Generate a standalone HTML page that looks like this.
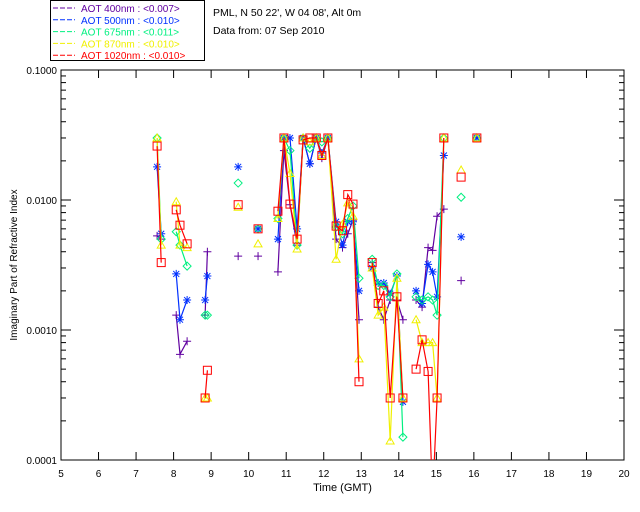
<!DOCTYPE html>
<html><head><meta charset="utf-8"><style>
body{margin:0;background:#fff;width:640px;height:512px;overflow:hidden}
svg{display:block;font-family:"Liberation Sans",sans-serif}
</style></head><body>
<svg id="c" width="640" height="512"></svg>
<script>
const times=[7.56,7.67,8.07,8.17,8.36,8.84,8.9,9.72,10.25,10.78,10.94,11.1,11.29,11.45,11.63,11.8,11.95,12.11,12.33,12.5,12.64,12.78,12.94,13.29,13.45,13.6,13.77,13.95,14.11,14.46,14.62,14.78,14.9,15.02,15.2,15.66,16.08];
const segments=[0,0,1,1,1,2,2,3,4,5,5,5,5,5,5,5,5,5,5,5,5,5,5,6,6,6,6,6,6,7,7,7,7,7,7,8,9];
const aot400=[0.0053,0.005,0.0013,0.00065,0.00082,0.0013,0.004,0.0037,0.0037,0.0028,0.024,0.0092,0.0045,0.03,0.019,0.03,0.021,0.03,0.005,0.0043,0.0055,0.007,0.0012,0.0033,0.0015,0.0012,0.0017,0.0017,0.0012,0.0017,0.0015,0.0043,0.0041,0.0075,0.0085,0.0024,null];
const aot500=[0.018,0.0055,0.0027,0.0012,0.0017,0.0017,0.0026,0.018,0.006,0.005,0.03,0.03,0.006,0.03,0.019,0.03,0.023,0.03,0.0068,0.0045,0.0068,0.0068,0.002,0.003,0.0023,0.0023,0.0019,0.0026,0.00028,0.002,0.0016,0.0032,0.0028,0.0018,0.022,0.0052,0.03];
const aot675=[0.03,0.005,0.0057,0.0045,0.0031,0.0013,0.0013,0.0135,0.006,0.0072,0.03,0.024,0.0045,0.03,0.025,0.03,0.028,0.03,0.0062,0.0055,0.0072,0.009,0.0025,0.0035,0.0022,0.0022,0.0018,0.0027,0.00015,0.0018,0.0017,0.0018,0.0017,0.0013,0.03,0.0105,0.03];
const aot870=[0.03,0.0045,0.0097,0.0045,0.0043,0.0003,0.0003,0.0088,0.0046,0.0072,0.03,0.016,0.0042,0.03,0.028,0.03,0.022,0.03,0.0035,0.0065,0.0095,0.0075,0.0006,0.003,0.0013,0.0015,0.00014,0.0025,0.0003,0.0012,0.0008,0.0008,0.0008,0.0003,0.03,0.017,0.03];
const aot1020=[0.026,0.0033,0.0084,0.0064,0.0046,0.0003,0.00049,0.0092,0.006,0.0082,0.03,0.0093,0.005,0.029,0.03,0.03,0.022,0.03,0.0063,0.0058,0.011,0.0093,0.0004,0.0033,0.0016,0.002,0.0003,0.0018,0.0003,0.0005,0.00084,0.00048,0.00005,0.0003,0.03,0.015,0.03];
const xTicks=[5,6,7,8,9,10,11,12,13,14,15,16,17,18,19,20];
const yTicks=[0.1,0.01,0.001,0.0001];
const yTickLabels=["0.1000","0.0100","0.0010","0.0001"];

const L=61,R=624,T=70,B=460;
const X=t=>L+(t-5)*(R-L)/15;
const Y=v=>T+(-1-Math.log10(v))*(B-T)/3;
const svg=document.getElementById('c');
const NS='http://www.w3.org/2000/svg';
function mk(tag,attrs,parent){const e=document.createElementNS(NS,tag);for(const k in attrs)e.setAttribute(k,attrs[k]);(parent||svg).appendChild(e);return e;}

const defs=mk('defs',{});const cp=mk('clipPath',{id:'pc'},defs);mk('rect',{x:L,y:T,width:R-L,height:B-T},cp);

const box=mk('rect',{x:L,y:T,width:R-L,height:B-T,fill:'none',stroke:'#000','stroke-width':1});



xTicks.forEach(t=>{
  const x=X(t);
  mk('line',{x1:x,x2:x,y1:B,y2:B-8,stroke:'#000'});
  mk('line',{x1:x,x2:x,y1:T,y2:T+8,stroke:'#000'});
  const tx=mk('text',{x:x,y:B+17,'font-size':10,'text-anchor':'middle'});
  tx.textContent=t;
  
  
});
yTicks.forEach((v,i)=>{
  const y=Y(v);
  mk('line',{x1:L,x2:L+10,y1:y,y2:y,stroke:'#000'});
  mk('line',{x1:R,x2:R-10,y1:y,y2:y,stroke:'#000'});
  const tx=mk('text',{x:L-4,y:y+4,'font-size':10,'text-anchor':'end'});
  tx.textContent=yTickLabels[i];
  
  
  if(i<3){for(let m=2;m<10;m++){const yy=Y(v/10*m);
    mk('line',{x1:L,x2:L+5,y1:yy,y2:yy,stroke:'#000'});
    mk('line',{x1:R,x2:R-5,y1:yy,y2:yy,stroke:'#000'});}}
});
const xt=mk('text',{x:(L+R)/2,y:491,'font-size':11,'text-anchor':'middle'});xt.textContent='Time (GMT)';


const yt=mk('text',{x:0,y:0,'font-size':10,'text-anchor':'middle',transform:`translate(17,${(T+B)/2}) rotate(-90)`});yt.textContent='Imaginary Part of Refractive Index';



function marker(g,type,x,y,col){
  if(type==='plus'){mk('path',{d:`M${x-4},${y}h8M${x},${y-4}v8`,stroke:col,fill:'none'},g);}
  else if(type==='star'){mk('path',{d:`M${x-4},${y}h8M${x},${y-4}v8M${x-3},${y-3}l6,6M${x-3},${y+3}l6,-6`,stroke:col,fill:'none'},g);}
  else if(type==='diamond'){mk('path',{d:`M${x},${y-4}l4,4l-4,4l-4,-4z`,stroke:col,fill:'none'},g);}
  else if(type==='tri'){mk('path',{d:`M${x},${y-4}l4,7h-8z`,stroke:col,fill:'none'},g);}
  else {mk('rect',{x:x-4,y:y-4,width:8,height:8,stroke:col,fill:'none'},g);}
}
const series=[
 ['series-400nm',aot400,'#6000a0','plus'],
 ['series-500nm',aot500,'#0030ff','star'],
 ['series-675nm',aot675,'#00f080','diamond'],
 ['series-870nm',aot870,'#f0f000','tri'],
 ['series-1020nm',aot1020,'#ff0000','sq']];
series.forEach(([name,vals,col,type])=>{
  const g=mk('g',{'clip-path':'url(#pc)'});
  
  
  let d='';let prevSeg=-1;
  vals.forEach((v,i)=>{if(v==null){prevSeg=-1;return;}
    const cmd=(segments[i]===prevSeg)?'L':'M';
    d+=cmd+X(times[i]).toFixed(1)+','+Y(v).toFixed(1);prevSeg=segments[i];});
  mk('path',{d:d,stroke:col,fill:'none','stroke-width':1.2},g);
  vals.forEach((v,i)=>{if(v==null)return;marker(g,type,X(times[i]),Y(v),col);});
});

const lg=mk('g',{});


mk('rect',{x:50.5,y:0.5,width:154,height:60,fill:'#fff',stroke:'#000'},lg);
const legTxt=[['AOT  400nm : <0.007>','#6000a0'],['AOT  500nm : <0.010>','#0030ff'],['AOT  675nm : <0.011>','#00f080'],['AOT  870nm : <0.010>','#f0f000'],['AOT 1020nm : <0.010>','#ff0000']];
legTxt.forEach(([s,c],i)=>{
  const y=8+i*11.8;
  mk('line',{x1:53,x2:75,y1:y,y2:y,stroke:c,'stroke-dasharray':'5,2'},lg);
  const t=mk('text',{x:81,y:y+4,'font-size':10,fill:c,'xml:space':'preserve'},lg);t.textContent=s;
  
  
});
const i1=mk('text',{x:213,y:16,'font-size':10.5});i1.textContent="PML, N 50 22', W 04 08', Alt 0m";


const i2=mk('text',{x:213,y:34,'font-size':10.5});i2.textContent="Data from: 07 Sep 2010";


</script>
</body></html>
